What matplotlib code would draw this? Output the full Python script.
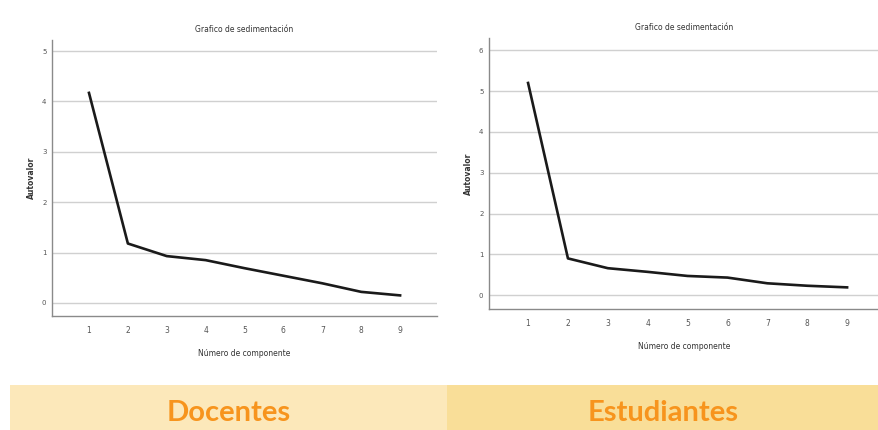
import matplotlib.pyplot as plt

# Eigenvalues
components = [1, 2, 3, 4, 5, 6, 7, 8, 9]
docentes = [4.17, 1.18, 0.93, 0.85, 0.69, 0.54, 0.39, 0.22, 0.15]
estudiantes = [5.20, 0.90, 0.66, 0.57, 0.47, 0.43, 0.29, 0.23, 0.19]
docentes_yticks = [0, 1, 2, 3, 4, 5]
estudiantes_yticks = [0, 1, 2, 3, 4, 5, 6]
panel_labels = ['Docentes', 'Estudiantes']

fig = plt.figure(figsize=(8.79, 4.30), dpi=100)
fig.patch.set_facecolor('white')


def scree(ax, values, yticks, ylim, xlim):
	ax.plot(components, values, color='#1a1a1a', linewidth=1.9, solid_joinstyle='round')
	ax.set_xlim(*xlim)
	ax.set_ylim(*ylim)
	ax.set_xticks(components)
	ax.set_yticks(yticks)
	ax.grid(axis='y', color='#d0d0d0', linewidth=1.0)
	ax.set_axisbelow(True)
	for side in ['top', 'right']:
		ax.spines[side].set_visible(False)
	for side in ['left', 'bottom']:
		ax.spines[side].set_color('#8a8a8a')
		ax.spines[side].set_linewidth(1.0)
	ax.tick_params(axis='x', length=0, labelsize=5.5, colors='#555555', pad=7)
	ax.tick_params(axis='y', length=0, labelsize=5, colors='#555555', pad=4)
	ax.set_title('Grafico de sedimentación', fontsize=5.5, color='#333333', pad=6)
	ax.set_xlabel('Número de componente', fontsize=5.5, color='#333333', labelpad=10)
	ax.set_ylabel('Autovalor', fontsize=5.5, color='#333333', fontweight='bold', labelpad=4)


ax1 = fig.add_axes([0.0592, 0.265, 0.438, 0.642])
scree(ax1, docentes, docentes_yticks, (-0.26, 5.22), (0.05, 9.95))

ax2 = fig.add_axes([0.5563, 0.2814, 0.4437, 0.630])
scree(ax2, estudiantes, estudiantes_yticks, (-0.34, 6.3), (0.02, 9.8))

# Bottom caption band
band1 = fig.add_axes([10 / 879, 0, 437 / 879, 45 / 430])
band2 = fig.add_axes([447 / 879, 0, 432 / 879, 45 / 430])
for band, label, colour in zip([band1, band2], panel_labels, ['#fce8ba', '#f9de98']):
	band.set_facecolor(colour)
	band.set_xticks([])
	band.set_yticks([])
	for s in band.spines.values():
		s.set_visible(False)
	band.text(0.5, 0.38, label, ha='center', va='center', fontsize=21,
		fontweight='bold', color='#f7941d', family='Lato', transform=band.transAxes)

fig.savefig('out.png', dpi=100)
